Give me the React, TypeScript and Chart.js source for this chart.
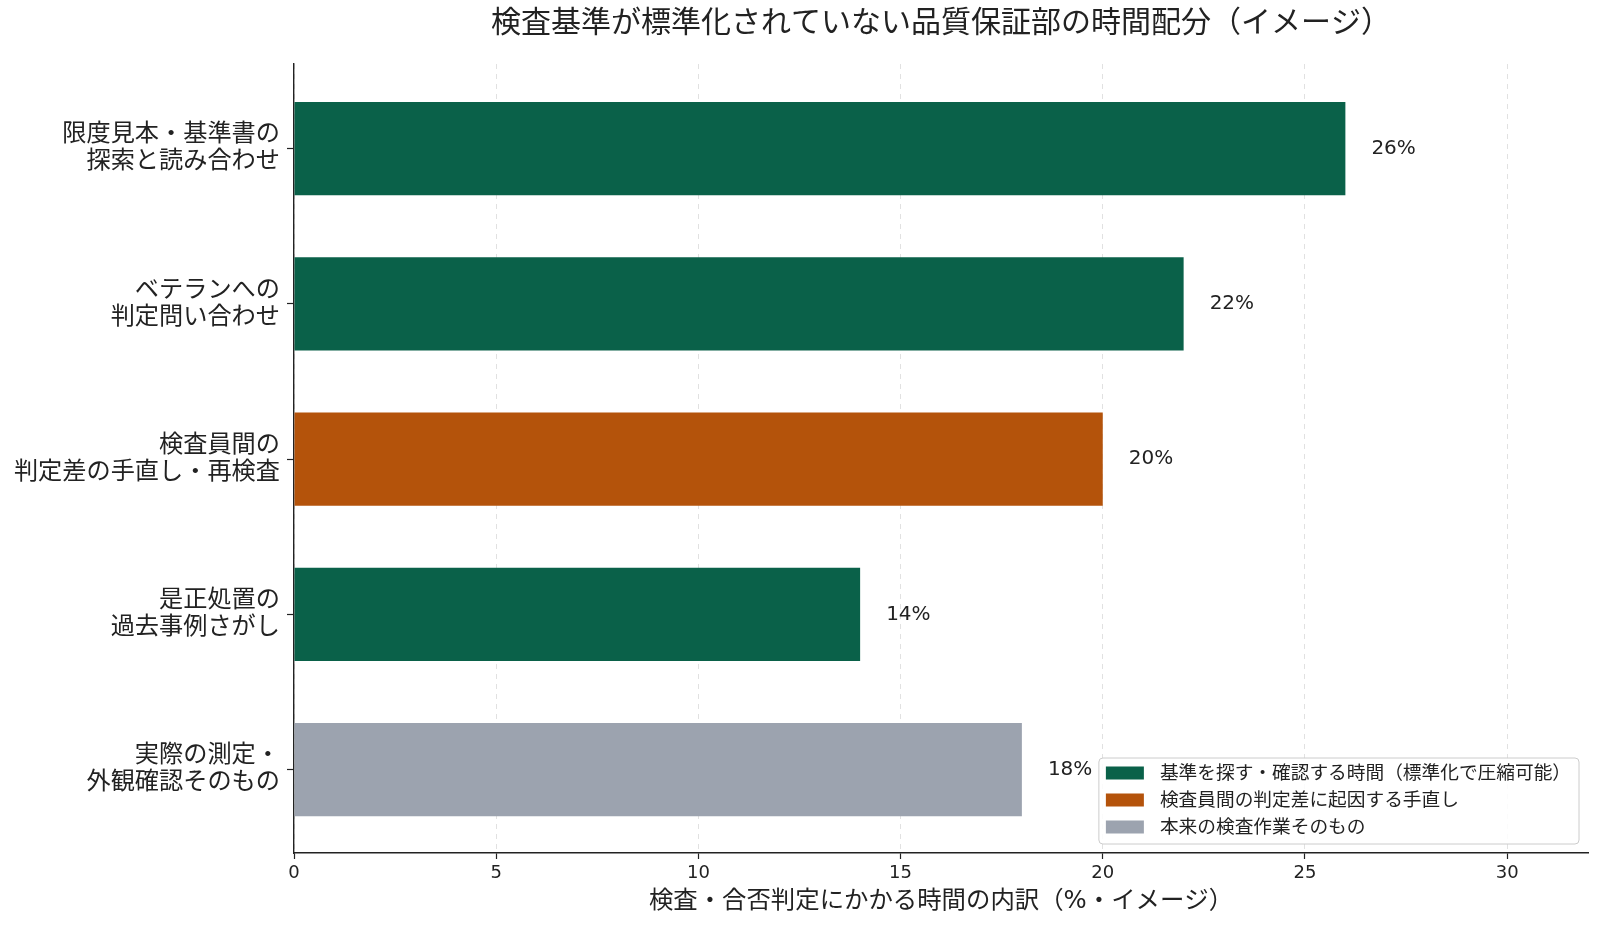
import React, { useEffect, useRef } from "react";
import { Chart, registerables } from "chart.js";

Chart.register(...registerables);

const FONT = '"DejaVu Sans", "Noto Sans CJK JP", sans-serif';
const TEXT = "#222222";

const chartTitle = "検査基準が標準化されていない品質保証部の時間配分（イメージ）";
const xAxisTitle = "検査・合否判定にかかる時間の内訳（%・イメージ）";

const categories: string[][] = [
  ["限度見本・基準書の", "探索と読み合わせ"],
  ["ベテランへの", "判定問い合わせ"],
  ["検査員間の", "判定差の手直し・再検査"],
  ["是正処置の", "過去事例さがし"],
  ["実際の測定・", "外観確認そのもの"],
];
const values = [26, 22, 20, 14, 18];
const groupOfBar = [0, 0, 1, 0, 2];
const groupLabels = [
  "基準を探す・確認する時間（標準化で圧縮可能）",
  "検査員間の判定差に起因する手直し",
  "本来の検査作業そのもの",
];
const groupColors = ["#0a6149", "#b4530b", "#9ca3af"];
const xTickValues = [0, 5, 10, 15, 20, 25, 30];
const xMax = 32;

const overlayPlugin = {
  id: "overlay",
  afterDatasetsDraw(chart: any) {
    const ctx = chart.ctx;
    const area = chart.chartArea;
    const meta = chart.getDatasetMeta(0);
    ctx.save();
    // value labels
    ctx.font = `20px ${FONT}`;
    ctx.fillStyle = TEXT;
    ctx.textAlign = "left";
    ctx.textBaseline = "middle";
    meta.data.forEach((el: any, i: number) => {
      ctx.fillText(`${values[i]}%`, el.x + 26, el.y);
    });
    // titles
    const cx = (area.left + area.right) / 2;
    ctx.textAlign = "center";
    ctx.font = `30px ${FONT}`;
    ctx.fillText(chartTitle, cx, 24);
    ctx.font = `24.4px ${FONT}`;
    ctx.fillText(xAxisTitle, cx, 902);

    // legend
    ctx.font = `18.7px ${FONT}`;
    let maxW = 0;
    groupLabels.forEach((t) => {
      maxW = Math.max(maxW, ctx.measureText(t).width);
    });
    const padL = 7;
    const swW = 38;
    const swH = 13;
    const gap = 16;
    const padR = 8;
    const rowH = 27;
    const boxW = padL + swW + gap + maxW + padR;
    const boxH = 86;
    const right = area.right - 9;
    const bottom = area.bottom - 9;
    const left = right - boxW;
    const top = bottom - boxH;
    ctx.beginPath();
    ctx.roundRect(left, top, boxW, boxH, 4);
    ctx.fillStyle = "rgba(255,255,255,0.85)";
    ctx.fill();
    ctx.strokeStyle = "#cccccc";
    ctx.lineWidth = 1;
    ctx.stroke();
    ctx.textAlign = "left";
    ctx.textBaseline = "middle";
    groupLabels.forEach((t, i) => {
      const cy = top + 15 + i * rowH;
      ctx.fillStyle = groupColors[i];
      ctx.fillRect(left + padL, cy - swH / 2, swW, swH);
      ctx.fillStyle = TEXT;
      ctx.fillText(t, left + padL + swW + gap, cy + 1);
    });
    ctx.restore();
  },
};

export default function App() {
  const ref = useRef<HTMLCanvasElement | null>(null);

  useEffect(() => {
    document.body.style.margin = "0";
    if (!ref.current) return;
    Chart.defaults.font.family = FONT;
    Chart.defaults.color = TEXT;
    const chart = new Chart(ref.current, {
      type: "bar",
      data: {
        datasets: [
          {
            data: values.map((v, i) => ({ x: v, y: i })),
            backgroundColor: groupOfBar.map((g) => groupColors[g]),
            borderWidth: 0,
            barPercentage: 0.6,
            categoryPercentage: 1.0,
          },
        ],
      },
      options: {
        indexAxis: "y",
        animation: false,
        responsive: false,
        devicePixelRatio: 1,
        layout: { padding: { left: 0, right: 12, top: 64, bottom: 0 } },
        plugins: {
          legend: { display: false },
          title: { display: false },
          tooltip: { enabled: false },
        },
        scales: {
          x: {
            type: "linear",
            min: 0,
            max: xMax,
            offset: false,
            afterBuildTicks: (scale: any) => {
              scale.ticks = xTickValues.map((v) => ({ value: v }));
            },
            afterFit: (scale: any) => {
              scale.height = 75;
            },
            ticks: {
              font: { size: 18 },
              color: TEXT,
              padding: 4,
              maxRotation: 0,
              autoSkip: false,
            },
            grid: {
              color: "#e1e1e1",
              lineWidth: 1,
              tickColor: TEXT,
              tickBorderDash: [],
              tickLength: 6,
              tickWidth: 1.2,
            } as any,
            border: { display: true, color: TEXT, width: 1.4, dash: [5, 5] },
          },
          y: {
            type: "linear",
            reverse: true,
            offset: false,
            min: -0.545,
            max: 4.537,
            afterBuildTicks: (scale: any) => {
              scale.ticks = categories.map((_, i) => ({ value: i }));
            },
            afterFit: (scale: any) => {
              scale.width = 294;
            },
            ticks: {
              font: { size: 24.2, lineHeight: 1.12 },
              color: TEXT,
              padding: 7,
              autoSkip: false,
              callback: (v: any) => categories[Math.round(Number(v))] ?? "",
            },
            grid: {
              offset: false,
              drawOnChartArea: false,
              drawTicks: true,
              tickLength: 7,
              tickColor: TEXT,
              tickWidth: 1.2,
            },
            border: { display: true, color: TEXT, width: 1.4 },
          },
        },
      },
      plugins: [overlayPlugin],
    });
    return () => chart.destroy();
  }, []);

  return (
    <div style={{ width: 1600, height: 928, background: "#fff" }}>
      <canvas ref={ref} width={1600} height={928} style={{ display: "block" }} />
    </div>
  );
}
